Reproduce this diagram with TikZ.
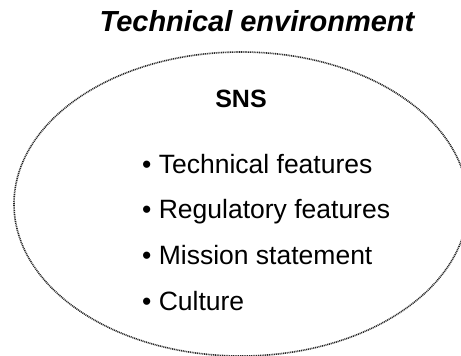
\documentclass[tikz,border=0pt]{standalone}
\usepackage{fontspec}
\setmainfont{Liberation Sans}
\usepackage{xcolor}
\usepackage{tikz}
\usetikzlibrary{positioning}

\begin{document}
\begin{tikzpicture}[x=1pt,y=-1pt]
    \useasboundingbox (0,0) rectangle (461,356);

    % Outer label
    \node[anchor=base,font=\fontsize{29}{34}\selectfont\bfseries\itshape] (env) at (257,31) {Technical environment};

    % The system itself
    \draw[line width=1.6pt,black!85,dash pattern=on 1pt off 0.8pt] (241,204) ellipse (227 and 152);
    \node[anchor=base,font=\fontsize{25}{30}\selectfont\bfseries] (sns) at (241,107) {SNS};

    % Bullet list inside
    \foreach \i/\txt in {0/Technical features, 1/Regulatory features,
                         2/Mission statement, 3/Culture} {
        \node[anchor=base west,inner sep=0pt,font=\fontsize{26.5}{32}\selectfont] (item\i) at (142,173+\i*45.7) {\textbullet\ \txt};
    }
\end{tikzpicture}
\end{document}
